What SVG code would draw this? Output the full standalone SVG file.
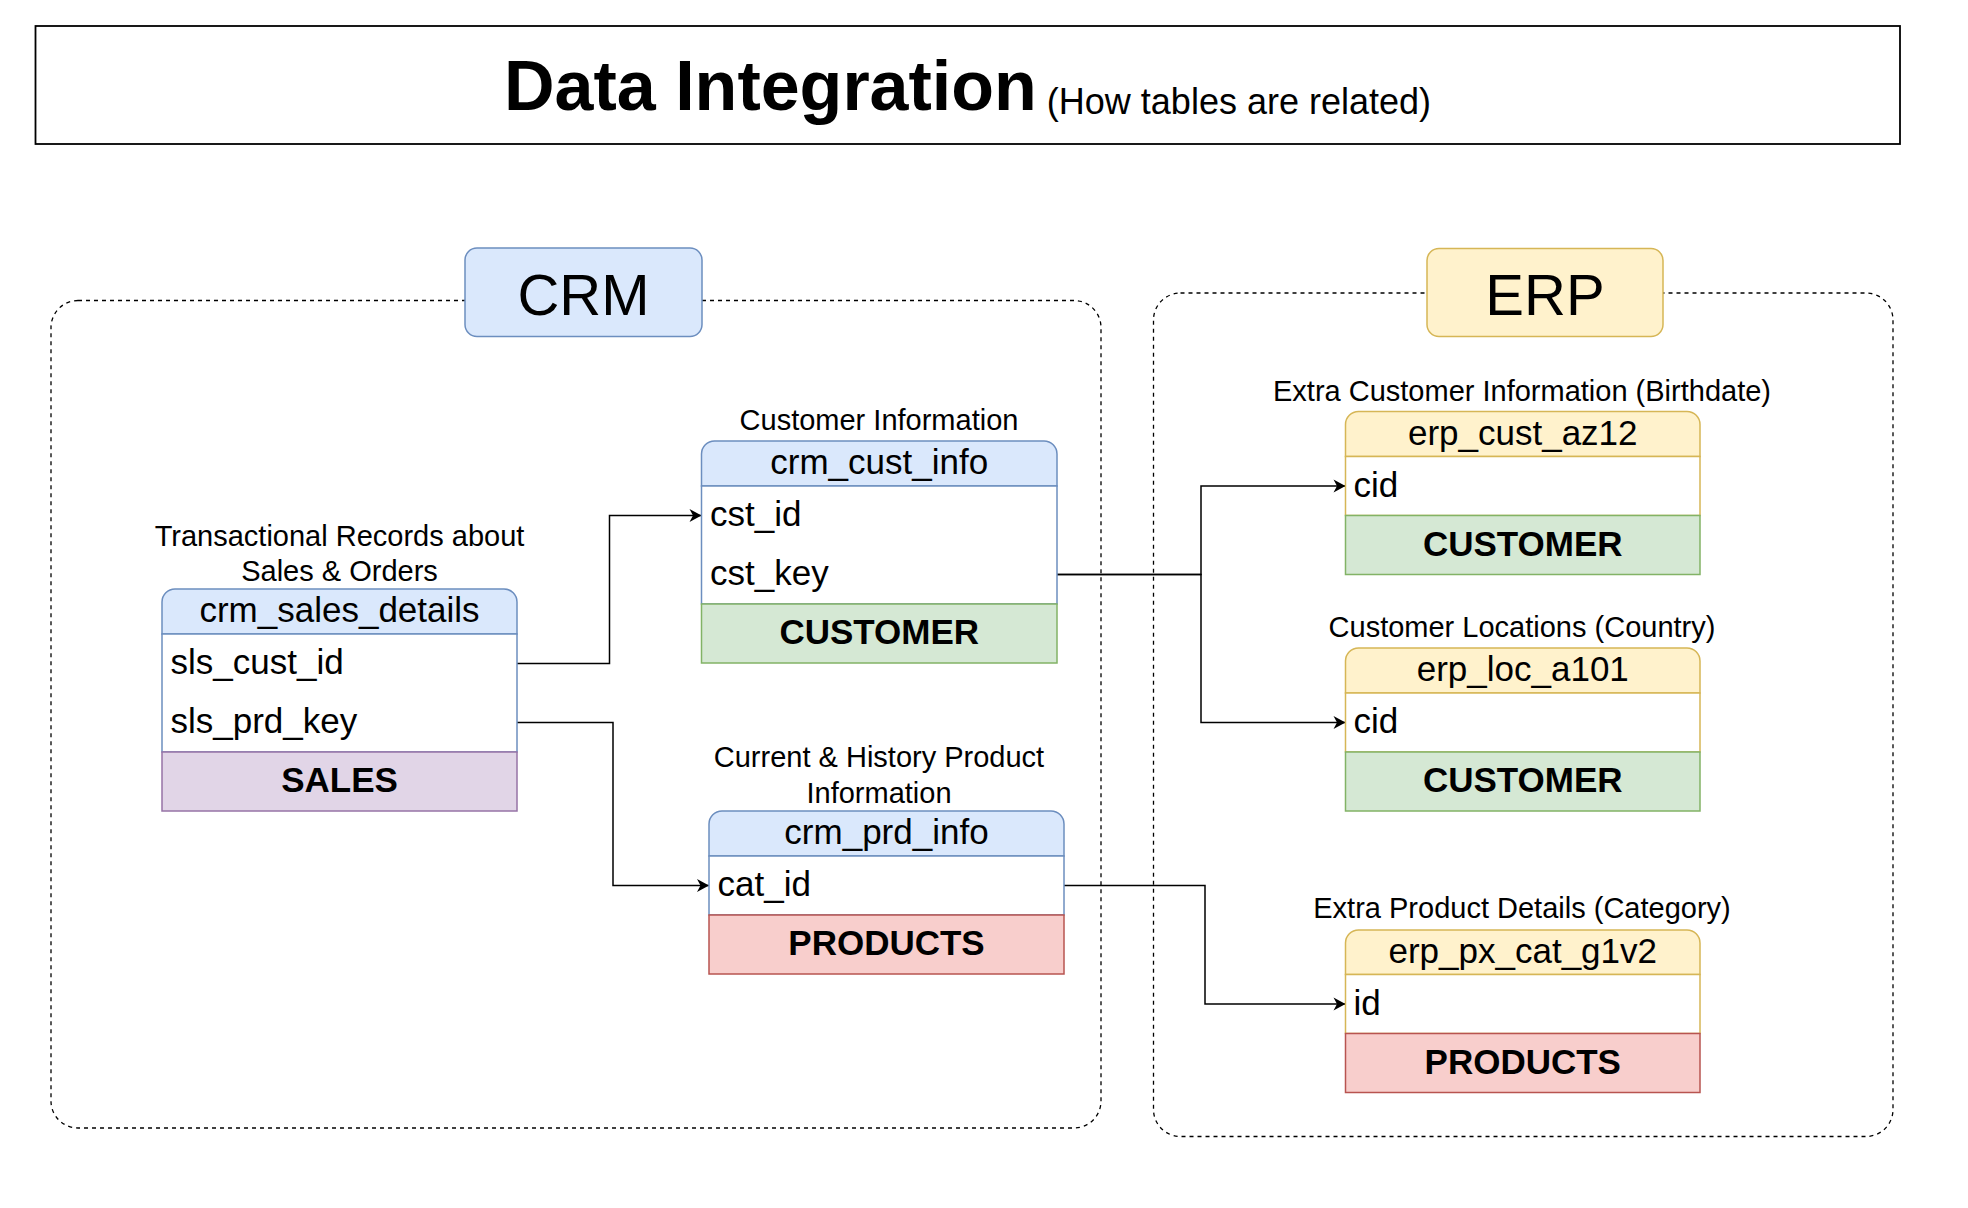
<svg xmlns="http://www.w3.org/2000/svg" width="1968" height="1208" viewBox="0 0 1968 1208">
<defs>
<style>
text{font-family:"Liberation Sans",Arial,Helvetica,sans-serif;fill:#000}
.th{font-size:35px;text-anchor:middle}
.td{font-size:35px}
.tb{font-size:35px;font-weight:bold;text-anchor:middle}
.lbl{font-size:29px;text-anchor:middle}
.grp{font-size:58px;text-anchor:middle}
.hb{fill:#dae8fc;stroke:#6c8ebf;stroke-width:1.5}
.bb{fill:#fff;stroke:#6c8ebf;stroke-width:1.5}
.hy{fill:#fff2cc;stroke:#d6b656;stroke-width:1.5}
.by{fill:#fff;stroke:#d6b656;stroke-width:1.5}
.green{fill:#d5e8d4;stroke:#82b366;stroke-width:1.5}
.purple{fill:#e1d5e7;stroke:#9673a6;stroke-width:1.5}
.red{fill:#f8cecc;stroke:#b85450;stroke-width:1.5}
.cont{fill:none;stroke:#000;stroke-width:1.3;stroke-dasharray:4 4}
.conn{fill:none;stroke:#000;stroke-width:1.5}
</style>
<marker id="arr" markerUnits="userSpaceOnUse" markerWidth="16" markerHeight="16" refX="13" refY="8" orient="auto">
<path d="M1,1.5 L13,8 L1,14.5 L4.5,8 Z" fill="#000"/>
</marker>
</defs>
<rect width="1968" height="1208" fill="#fff"/>

<g id="title">
<rect x="35.5" y="26" width="1864.5" height="118" fill="#fff" stroke="#000" stroke-width="1.8"/>
<text x="967.5" y="110" text-anchor="middle"><tspan font-size="70" font-weight="bold">Data Integration</tspan><tspan font-size="36" dy="4"> (How tables are related)</tspan></text>
</g>

<g id="crm-container">
<rect class="cont" x="51" y="300.5" width="1050" height="827.5" rx="27"/>
</g>
<g id="erp-container">
<rect class="cont" x="1153.5" y="293" width="739.5" height="843.5" rx="27"/>
</g>

<g id="crm-label">
<rect x="465" y="248" width="237" height="88.5" rx="12" fill="#dae8fc" stroke="#6c8ebf" stroke-width="1.5"/>
<text class="grp" x="583.5" y="315">CRM</text>
</g>
<g id="erp-label">
<rect x="1427" y="248.5" width="236" height="88" rx="12" fill="#fff2cc" stroke="#d6b656" stroke-width="1.5"/>
<text class="grp" x="1545" y="315">ERP</text>
</g>

<g id="connectors">
<path class="conn" d="M517,663.5 H609.5 V515.5 H701.5" marker-end="url(#arr)"/>
<path class="conn" d="M517,722.5 H613 V885.5 H709" marker-end="url(#arr)"/>
<path class="conn" d="M1057,574.5 H1201 V486 H1345.5" marker-end="url(#arr)"/>
<path class="conn" d="M1057,574.5 H1201 V722.5 H1345.5" marker-end="url(#arr)"/>
<path class="conn" d="M1064,885.5 H1205 V1004 H1345.5" marker-end="url(#arr)"/>
</g>

<g id="label-sales">
<text class="lbl" x="339.5" y="545.5">Transactional Records about</text>
<text class="lbl" x="339.5" y="581">Sales &amp; Orders</text>
</g>
<g id="crm_sales_details">
<path class="hb" d="M162,634 V602 A13,13 0 0 1 175,589 H504 A13,13 0 0 1 517,602 V634 Z"/>
<rect class="bb" x="162" y="634" width="355" height="118"/>
<rect class="purple" x="162" y="752" width="355" height="59"/>
<text class="th" x="339.5" y="622">crm_sales_details</text>
<text class="td" x="170.5" y="674">sls_cust_id</text>
<text class="td" x="170.5" y="733">sls_prd_key</text>
<text class="tb" x="339.5" y="792">SALES</text>
</g>

<g id="label-cust">
<text class="lbl" x="879" y="430">Customer Information</text>
</g>
<g id="crm_cust_info">
<path class="hb" d="M701.5,486 V454 A13,13 0 0 1 714.5,441 H1044 A13,13 0 0 1 1057,454 V486 Z"/>
<rect class="bb" x="701.5" y="486" width="355.5" height="118"/>
<rect class="green" x="701.5" y="604" width="355.5" height="59"/>
<text class="th" x="879.25" y="474">crm_cust_info</text>
<text class="td" x="710" y="526">cst_id</text>
<text class="td" x="710" y="585">cst_key</text>
<text class="tb" x="879.25" y="644">CUSTOMER</text>
</g>

<g id="label-prd">
<text class="lbl" x="879" y="767">Current &amp; History Product</text>
<text class="lbl" x="879" y="803">Information</text>
</g>
<g id="crm_prd_info">
<path class="hb" d="M709,856 V824 A13,13 0 0 1 722,811 H1051 A13,13 0 0 1 1064,824 V856 Z"/>
<rect class="bb" x="709" y="856" width="355" height="59"/>
<rect class="red" x="709" y="915" width="355" height="59"/>
<text class="th" x="886.5" y="844">crm_prd_info</text>
<text class="td" x="717.5" y="896">cat_id</text>
<text class="tb" x="886.5" y="955">PRODUCTS</text>
</g>

<g id="label-az12">
<text class="lbl" x="1522" y="401">Extra Customer Information (Birthdate)</text>
</g>
<g id="erp_cust_az12">
<path class="hy" d="M1345.5,456.5 V424.5 A13,13 0 0 1 1358.5,411.5 H1687 A13,13 0 0 1 1700,424.5 V456.5 Z"/>
<rect class="by" x="1345.5" y="456.5" width="354.5" height="59"/>
<rect class="green" x="1345.5" y="515.5" width="354.5" height="59"/>
<text class="th" x="1522.75" y="444.5">erp_cust_az12</text>
<text class="td" x="1353.5" y="496.5">cid</text>
<text class="tb" x="1522.75" y="555.5">CUSTOMER</text>
</g>

<g id="label-loc">
<text class="lbl" x="1522" y="637">Customer Locations (Country)</text>
</g>
<g id="erp_loc_a101">
<path class="hy" d="M1345.5,693 V661 A13,13 0 0 1 1358.5,648 H1687 A13,13 0 0 1 1700,661 V693 Z"/>
<rect class="by" x="1345.5" y="693" width="354.5" height="59"/>
<rect class="green" x="1345.5" y="752" width="354.5" height="59"/>
<text class="th" x="1522.75" y="681">erp_loc_a101</text>
<text class="td" x="1353.5" y="733">cid</text>
<text class="tb" x="1522.75" y="792">CUSTOMER</text>
</g>

<g id="label-px">
<text class="lbl" x="1522" y="918">Extra Product Details (Category)</text>
</g>
<g id="erp_px_cat_g1v2">
<path class="hy" d="M1345.5,974.5 V943 A13,13 0 0 1 1358.5,930 H1687 A13,13 0 0 1 1700,943 V974.5 Z"/>
<rect class="by" x="1345.5" y="974.5" width="354.5" height="59"/>
<rect class="red" x="1345.5" y="1033.5" width="354.5" height="59"/>
<text class="th" x="1522.75" y="963">erp_px_cat_g1v2</text>
<text class="td" x="1353.5" y="1014.5">id</text>
<text class="tb" x="1522.75" y="1073.5">PRODUCTS</text>
</g>
</svg>
